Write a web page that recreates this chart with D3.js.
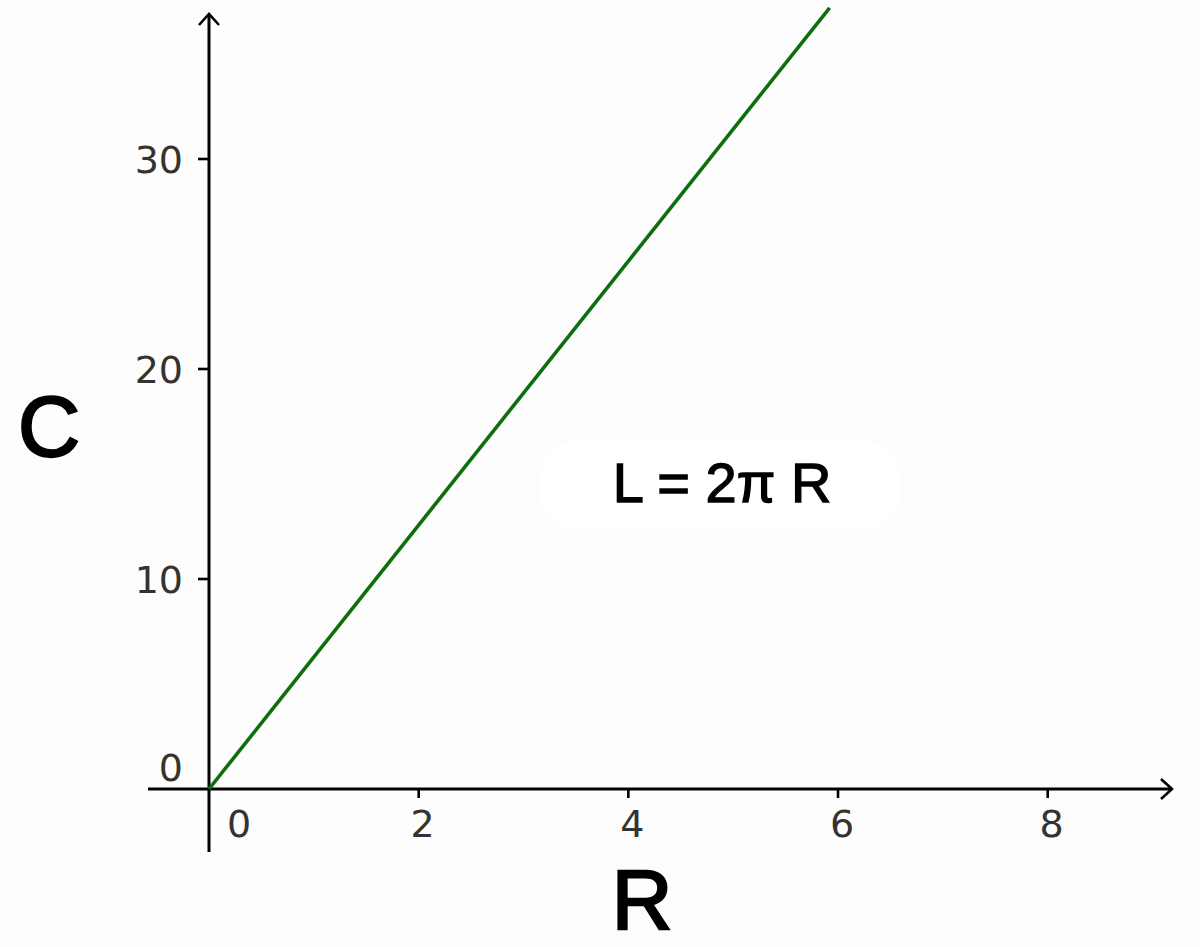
<!DOCTYPE html>
<html><head><meta charset="utf-8">
<script src="https://cdn.jsdelivr.net/npm/d3@7/dist/d3.min.js"></script>
<style>body{margin:0;background:#fff}svg{display:block}</style>
</head><body>
<script>
// Data
const radiusValues = [0, 5.92];
const circumferenceValues = [0, 37.2];
const xTickValues = [0, 2, 4, 6, 8];
const yTickValues = [0, 10, 20, 30];
const xTitle = "R";
const yTitle = "C";
const equationLabel = "L = 2π R";

const W = 1200, H = 947;
const svg = d3.select("body").append("svg").attr("width", W).attr("height", H);
svg.append("rect").attr("width", W).attr("height", H).attr("fill", "#fdfdfd");

const x = d3.scaleLinear().domain([0, 8]).range([209, 1047.7]);
const y = d3.scaleLinear().domain([0, 30]).range([789, 159]);

// label background
svg.append("rect").attr("x", 540).attr("y", 440).attr("width", 360).attr("height", 90)
  .attr("rx", 40).attr("fill", "#ffffff");

const axisColor = "#000";
// x axis line
const xMin = x.invert(148), xMax = x.invert(1172);
svg.append("line").attr("x1", x(xMin)).attr("x2", x(xMax)).attr("y1", y(0)).attr("y2", y(0))
  .attr("stroke", axisColor).attr("stroke-width", 3);
// y axis line
const yMin = y.invert(852), yMax = y.invert(14);
svg.append("line").attr("x1", x(0)).attr("x2", x(0)).attr("y1", y(yMin)).attr("y2", y(yMax))
  .attr("stroke", axisColor).attr("stroke-width", 3);
// arrows
svg.append("path").attr("d", `M${x(xMax)-11},${y(0)-10} L${x(xMax)},${y(0)} L${x(xMax)-11},${y(0)+10}`)
  .attr("fill", "none").attr("stroke", axisColor).attr("stroke-width", 2.6);
svg.append("path").attr("d", `M${x(0)-10},${y(yMax)+11} L${x(0)},${y(yMax)} L${x(0)+10},${y(yMax)+11}`)
  .attr("fill", "none").attr("stroke", axisColor).attr("stroke-width", 2.6);

// x ticks
const tickFont = "'DejaVu Sans', sans-serif";
const xt = svg.append("g");
xTickValues.forEach(v => {
  if (v !== 0) {
    xt.append("line").attr("x1", x(v)).attr("x2", x(v)).attr("y1", y(0)).attr("y2", y(0) + 9)
      .attr("stroke", axisColor).attr("stroke-width", 2.6);
  }
  xt.append("text").attr("x", v === 0 ? x(v) + 30 : x(v) + 4).attr("y", 837)
    .attr("text-anchor", "middle").attr("font-family", tickFont).attr("font-size", 38)
    .attr("fill", "#333").text(v);
});
// y ticks
const yt = svg.append("g");
yTickValues.forEach(v => {
  if (v !== 0) {
    yt.append("line").attr("x1", x(0) - 11).attr("x2", x(0)).attr("y1", y(v)).attr("y2", y(v))
      .attr("stroke", axisColor).attr("stroke-width", 2.6);
  }
  yt.append("text").attr("x", 183).attr("y", v === 0 ? y(v) - 8 : y(v) + 14)
    .attr("text-anchor", "end").attr("font-family", tickFont).attr("font-size", 38)
    .attr("fill", "#333").text(v);
});

// line
const pts = radiusValues.map((r, i) => [r, circumferenceValues[i]]);
svg.append("path").datum(pts)
  .attr("d", d3.line().x(d => x(d[0])).y(d => y(d[1])))
  .attr("fill", "none").attr("stroke", "#0e6e0e").attr("stroke-width", 3.6);

// titles
svg.append("text").attr("x", 642).attr("y", 929).attr("text-anchor", "middle")
  .attr("font-family", "'Liberation Sans', Arial, sans-serif").attr("font-size", 84)
  .attr("stroke", "#000").attr("stroke-width", 2.4).attr("fill", "#000").text(xTitle);
svg.append("text").attr("x", 49).attr("y", 456).attr("text-anchor", "middle")
  .attr("font-family", "'Liberation Sans', Arial, sans-serif").attr("font-size", 86)
  .attr("stroke", "#000").attr("stroke-width", 2.4).attr("fill", "#000").text(yTitle);
svg.append("text").attr("x", 722).attr("y", 502).attr("text-anchor", "middle")
  .attr("font-family", "'Liberation Sans', Arial, sans-serif").attr("font-size", 56)
  .attr("stroke", "#000").attr("stroke-width", 1.3).attr("fill", "#000").text(equationLabel);
</script>
</body></html>
